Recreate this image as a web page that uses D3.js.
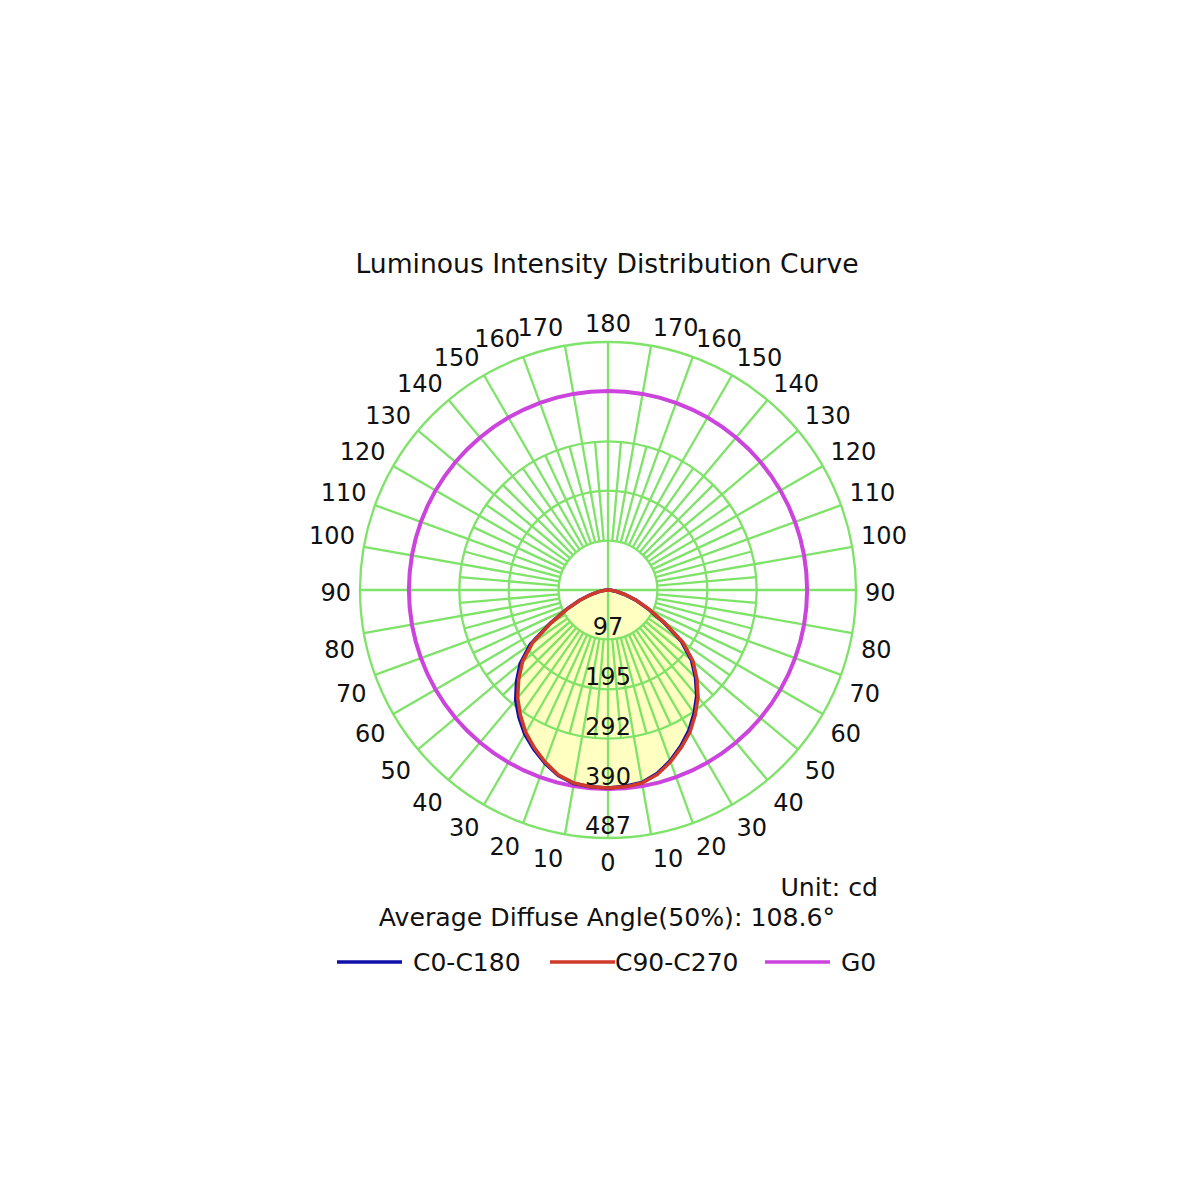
<!DOCTYPE html>
<html>
<head>
<meta charset="utf-8">
<script src="https://cdn.jsdelivr.net/npm/d3@7"></script>
<style>
  html, body { margin: 0; padding: 0; background: #fff; }
  text { font-family: "DejaVu Sans", Verdana, sans-serif; fill: #111; }
</style>
</head>
<body>
<svg id="chart" width="1200" height="1200"></svg>
<script>
// gamma angles (deg), 0 = straight down
const gammaAngles = [0, 5, 10, 15, 20, 25, 30, 35, 40, 45, 50, 55, 60, 65, 70, 75, 80, 85, 90,
  95, 100, 105, 110, 115, 120, 125, 130, 135, 140, 145, 150, 155, 160, 165, 170, 175, 180];

// intensities in cd
const c0   = [389, 387, 384, 373, 357, 338, 318, 295, 271, 243, 214, 176, 125, 86, 58, 34, 17, 6, 0,
  0, 0, 0, 0, 0, 0, 0, 0, 0, 0, 0, 0, 0, 0, 0, 0, 0, 0];
const c180 = [389, 388, 386, 377, 362, 345, 327, 305, 282, 254, 225, 186, 131, 90, 60, 36, 18, 6, 0,
  0, 0, 0, 0, 0, 0, 0, 0, 0, 0, 0, 0, 0, 0, 0, 0, 0, 0];
const c90  = [389, 388, 385, 375, 359, 341, 322, 299, 275, 247, 218, 180, 128, 88, 59, 35, 18, 6, 0,
  0, 0, 0, 0, 0, 0, 0, 0, 0, 0, 0, 0, 0, 0, 0, 0, 0, 0];
const c270 = [389, 388, 385, 376, 360, 342, 323, 300, 276, 248, 219, 181, 129, 88, 59, 35, 18, 6, 0,
  0, 0, 0, 0, 0, 0, 0, 0, 0, 0, 0, 0, 0, 0, 0, 0, 0, 0];
const g0   = [391, 391, 391, 391, 391, 391, 391, 391, 391, 391, 391, 391, 391, 391, 391, 391, 391, 391, 391,
  391, 391, 391, 391, 391, 391, 391, 391, 391, 391, 391, 391, 391, 391, 391, 391, 391, 391];

const ringValues = [97, 195, 292, 390, 487];
const angleTicks = [0, 10, 20, 30, 40, 50, 60, 70, 80, 90, 100, 110, 120, 130, 140, 150, 160, 170, 180];

const seriesNames = ["C0-C180", "C90-C270", "G0"];
const seriesColors = ["#1010a8", "#d03a2a", "#cc44dd"];

const svg = d3.select("#chart");
const cx = 608, cy = 590;

const r = d3.scaleLinear().domain([0, 487]).range([0, 248]);
const rad = d => d * Math.PI / 180;

const g = svg.append("g").attr("transform", `translate(${cx},${cy})`);

// right half (a = pi - gamma) then left half back (a = pi + gamma)
function planePoints(right, left) {
  const pts = gammaAngles.map((a, i) => [Math.PI - rad(a), r(right[i])]);
  const back = gammaAngles.slice().reverse().map((a, j) => {
    const i = gammaAngles.length - 1 - j;
    return [Math.PI + rad(a), r(left[i])];
  });
  return pts.concat(back);
}

const radial = d3.lineRadial()
  .angle(d => d[0])
  .radius(d => d[1])
  .curve(d3.curveLinearClosed);

// yellow fill under the grid
g.append("path")
  .attr("d", radial(planePoints(c90, c270)))
  .attr("fill", "#ffffc2")
  .attr("stroke", "none");

// grid
const gridColor = "#7ee368";
const spokes = d3.range(0, 360, 5);
g.selectAll(".spoke")
  .data(spokes)
  .enter().append("line")
  .attr("class", "spoke")
  .attr("x1", d => (d % 90 === 0 ? 0 : r(ringValues[0])) * Math.sin(rad(d)))
  .attr("y1", d => (d % 90 === 0 ? 0 : r(ringValues[0])) * Math.cos(rad(d)))
  .attr("x2", d => (d % 10 === 0 ? r(ringValues[4]) : r(ringValues[2])) * Math.sin(rad(d)))
  .attr("y2", d => (d % 10 === 0 ? r(ringValues[4]) : r(ringValues[2])) * Math.cos(rad(d)))
  .attr("stroke", gridColor)
  .attr("stroke-width", 2.3);

g.selectAll(".ring")
  .data(ringValues)
  .enter().append("circle")
  .attr("class", "ring")
  .attr("r", d => r(d))
  .attr("fill", "none")
  .attr("stroke", gridColor)
  .attr("stroke-width", 2.3);

// curves
g.append("path")
  .attr("d", radial(planePoints(g0, g0)))
  .attr("fill", "none")
  .attr("stroke", seriesColors[2])
  .attr("stroke-width", 4);

g.append("path")
  .attr("d", radial(planePoints(c0, c180)))
  .attr("fill", "none")
  .attr("stroke", seriesColors[0])
  .attr("stroke-width", 3.5);

g.append("path")
  .attr("d", radial(planePoints(c90, c270)))
  .attr("fill", "none")
  .attr("stroke", seriesColors[1])
  .attr("stroke-width", 3.5);

// ring value labels
g.selectAll(".ring-label")
  .data(ringValues)
  .enter().append("text")
  .attr("class", "ring-label")
  .attr("x", 0)
  .attr("y", d => r(d) - 4)
  .attr("text-anchor", "middle")
  .attr("font-size", 24)
  .text(d => d);

// angle labels on both sides
const labelR = 257;
const angleLabels = [];
angleTicks.forEach(t => {
  if (t === 0 || t === 180) angleLabels.push({ t, side: 0 });
  else { angleLabels.push({ t, side: -1 }); angleLabels.push({ t, side: 1 }); }
});
g.selectAll(".angle-label")
  .data(angleLabels)
  .enter().append("text")
  .attr("class", "angle-label")
  .attr("x", d => d.side * labelR * Math.sin(rad(d.t)))
  .attr("y", d => {
    const off = d.t < 85 ? 15 : d.t > 95 ? -10 : 2;
    return labelR * Math.cos(rad(d.t)) + off + 8.7;
  })
  .attr("text-anchor", d => d.side === 0 ? "middle" : d.side < 0 ? "end" : "start")
  .attr("font-size", 24)
  .text(d => d.t);

// title and notes
svg.append("text")
  .attr("x", 607).attr("y", 273)
  .attr("text-anchor", "middle")
  .attr("font-size", 26.6)
  .text("Luminous Intensity Distribution Curve");

svg.append("text")
  .attr("x", 878).attr("y", 896)
  .attr("text-anchor", "end")
  .attr("font-size", 25.2)
  .text("Unit: cd");

svg.append("text")
  .attr("x", 607).attr("y", 926)
  .attr("text-anchor", "middle")
  .attr("font-size", 25.2)
  .text("Average Diffuse Angle(50%): 108.6°");

// legend
const legendX = [337, 550, 765];
const legend = svg.selectAll(".legend")
  .data(seriesNames)
  .enter().append("g")
  .attr("class", "legend")
  .attr("transform", (d, i) => `translate(${legendX[i]}, 962)`);

legend.append("line")
  .attr("x1", 0).attr("x2", 65)
  .attr("stroke", (d, i) => seriesColors[i])
  .attr("stroke-width", 3.5);

legend.append("text")
  .attr("x", (d, i) => i === 1 ? 65 : 76)
  .attr("y", 9)
  .attr("font-size", 25)
  .text(d => d);
</script>
</body>
</html>
